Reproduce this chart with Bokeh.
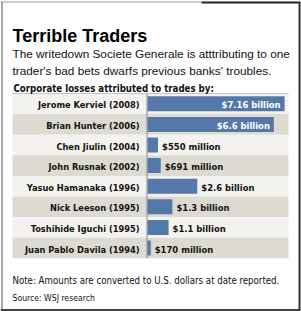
from bokeh.plotting import figure
from bokeh.models import Range1d, ColumnDataSource
from bokeh.core.properties import value
from bokeh.embed import file_html
from bokeh.resources import INLINE

# ---- data ----
traders = ["Jerome Kerviel (2008)", "Brian Hunter (2006)", "Chen Jiulin (2004)",
           "John Rusnak (2002)", "Yasuo Hamanaka (1996)", "Nick Leeson (1995)",
           "Toshihide Iguchi (1995)", "Juan Pablo Davila (1994)"]
losses_bn = [7.16, 6.6, 0.55, 0.691, 2.6, 1.3, 1.1, 0.17]
loss_labels = ["$7.16 billion", "$6.6 billion", "$550 million", "$691 million",
               "$2.6 billion", "$1.3 billion", "$1.1 billion", "$170 million"]

title = "Terrible Traders"
subtitle = ["The writedown Societe Generale is atttributing to one",
            "trader's bad bets dwarfs previous banks' troubles."]
chart_head = "Corporate losses attributed to trades by:"
note = "Note: Amounts are converted to U.S. dollars at date reported."
source = "Source: WSJ research"

# ---- layout (pixels) ----
W, H = 301, 311
ZERO_PX = 147.0          # pixel where bars start
PX_PER_BN = 19.15        # pixels per billion
ROW_TOP = 93.0
ROW_H = 20.6
ROW_L, ROW_R = 12.0, 288.0

NARROW = "'DejaVu Sans Condensed', 'DejaVu Sans'"
REG = "Liberation Sans"

p = figure(width=W, height=H, output_backend="svg", toolbar_location=None,
           x_range=Range1d(-ZERO_PX / PX_PER_BN, (W - ZERO_PX) / PX_PER_BN),
           y_range=Range1d(H, 0), min_border=0, outline_line_color=None,
           background_fill_color="white", border_fill_color="white")
p.axis.visible = False
p.grid.visible = False
p.extra_x_ranges = {"px": Range1d(0, W)}

n = len(traders)
centers = [ROW_TOP + ROW_H * (i + 0.5) for i in range(n)]
row_fill = ["#f3f2ee" if i % 2 == 0 else "#dddbd1" for i in range(n)]

# row backgrounds
p.quad(left=ROW_L, right=ROW_R,
       top=[c - ROW_H / 2 for c in centers], bottom=[c + ROW_H / 2 for c in centers],
       fill_color=row_fill, line_color=None, x_range_name="px")
# top rule and divider
p.segment(x0=ROW_L, x1=ROW_R, y0=ROW_TOP, y1=ROW_TOP, line_color="#c4c4c4",
          line_width=1, x_range_name="px")
p.segment(x0=ZERO_PX - 0.5, x1=ZERO_PX - 0.5, y0=ROW_TOP, y1=ROW_TOP + ROW_H * n,
          line_color="#8a8a8a", line_width=1, x_range_name="px")

src = ColumnDataSource(dict(y=centers, v=losses_bn, name=traders, lab=loss_labels))
p.hbar(y="y", left=0, right="v", height=15, source=src,
       fill_color="#5479a8", line_color=None)

# trader names
p.text(x=0, y="y", text="name", source=src, x_offset=-8, y_offset=1,
       text_align="right", text_baseline="middle", text_font=value(NARROW),
       text_font_style="bold", text_font_size="9.2px", text_color="#111111")

# value labels
inside = [i for i in range(n) if losses_bn[i] > 5]
outside = [i for i in range(n) if losses_bn[i] <= 5]
src_in = ColumnDataSource(dict(y=[centers[i] for i in inside], v=[losses_bn[i] for i in inside],
                               lab=[loss_labels[i] for i in inside]))
src_out = ColumnDataSource(dict(y=[centers[i] for i in outside], v=[losses_bn[i] for i in outside],
                                lab=[loss_labels[i] for i in outside]))
p.text(x="v", y="y", text="lab", source=src_in, x_offset=-4, y_offset=1,
       text_align="right", text_baseline="middle", text_font=value(NARROW),
       text_font_style="bold", text_font_size="9.4px", text_color="white")
p.text(x="v", y="y", text="lab", source=src_out, x_offset=4, y_offset=1,
       text_align="left", text_baseline="middle", text_font=value(NARROW),
       text_font_style="bold", text_font_size="9.4px", text_color="#111111")

# headings and notes
def txt(x, y, s, font, size, style="normal", color="#111111"):
    p.text(x=[x], y=[y], text=[s], text_font=value(font), text_font_size=size,
           text_font_style=style, text_color=color, text_baseline="alphabetic",
           text_align="left", x_range_name="px")

txt(12, 35, title, "Liberation Sans", "18px", "bold", "#000000")
txt(12, 53.3, subtitle[0], REG, "11.8px")
txt(12, 70, subtitle[1], REG, "11.8px")
txt(13, 87.7, chart_head, NARROW, "9.6px", "bold")
txt(12, 280, note, NARROW, "9.6px")
txt(12, 297, source, NARROW, "8.6px")

# frame
p.segment(x0=[0, 201, 1.5, 299], x1=[201, 300, 1.5, 299],
          y0=[1.5, 2, 1.5, 2], y1=[1.5, 2, 309.5, 309.5],
          line_color=["#9a9a9a", "#222222", "#555555", "#333333"],
          line_width=[1, 2, 1, 2], x_range_name="px")
p.segment(x0=[0], x1=[300], y0=[309.5], y1=[309.5], line_color="#444444",
          line_width=2, x_range_name="px")

open("out.html", "w").write(file_html(p, INLINE))
